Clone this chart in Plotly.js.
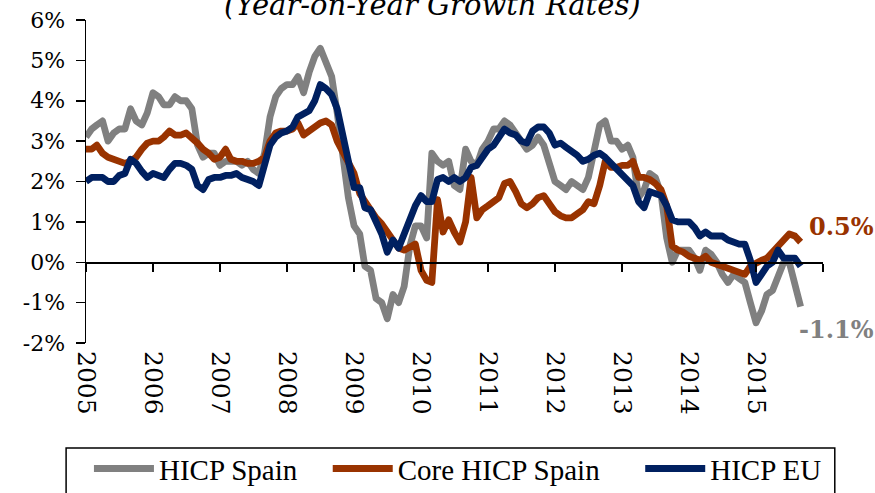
<!DOCTYPE html>
<html><head><meta charset="utf-8">
<script src="https://cdn.plot.ly/plotly-3.0.1.min.js"></script>
<style>
html,body{margin:0;padding:0;background:#fff;}
#chart{width:875px;height:493px;}
.scatterlayer path.js-line{stroke-linejoin:round;}
</style></head><body><div id="chart"></div>
<script>
// Monthly data, Jan 2005 - Sep 2015 (year-on-year %)
const startYear = 2005;
const yearLabels = ['2005','2006','2007','2008','2009','2010','2011','2012','2013','2014','2015'];
const yTickVals = [-2,-1,0,1,2,3,4,5,6];
const yTickLabels = ['-2%','-1%','0%','1%','2%','3%','4%','5%','6%'];
const seriesNames = ['HICP Spain','Core HICP Spain','HICP EU'];

const hicpSpain = [
  3.1,3.3,3.4,3.5,3.0,3.2,3.3,3.3,3.8,3.5,3.4,3.7,
  4.2,4.1,3.9,3.9,4.1,4.0,4.0,3.8,2.9,2.6,2.7,2.7,
  2.4,2.5,2.5,2.5,2.4,2.5,2.3,2.2,2.7,3.6,4.1,4.3,
  4.4,4.4,4.6,4.2,4.7,5.1,5.3,4.9,4.6,3.7,2.5,1.6,
  0.9,0.7,-0.1,-0.2,-0.9,-1.0,-1.4,-0.8,-1.0,-0.6,0.4,0.9,
  0.9,0.6,2.7,2.5,2.4,2.5,1.9,1.8,2.8,2.5,2.4,2.8,
  3.0,3.3,3.3,3.5,3.4,3.2,3.0,2.8,2.9,3.1,2.9,2.4,
  2.0,1.9,1.8,2.0,1.9,1.8,2.1,2.7,3.4,3.5,3.0,3.0,
  2.8,2.9,2.6,1.6,1.8,2.2,2.1,1.7,0.6,0.0,0.3,0.3,
  0.3,0.1,-0.2,0.3,0.2,0.0,-0.3,-0.5,-0.3,-0.4,-0.5,-1.0,
  -1.5,-1.2,-0.8,-0.7,-0.3,0.0,0.0,-0.5,-1.1
];
const coreSpain = [
  2.8,2.8,2.9,2.7,2.6,2.55,2.5,2.45,2.5,2.6,2.8,2.95,
  3.0,3.0,3.1,3.25,3.15,3.15,3.2,3.1,2.95,2.8,2.7,2.55,
  2.6,2.8,2.55,2.5,2.5,2.45,2.45,2.5,2.6,3.0,3.2,3.25,
  3.25,3.3,3.45,3.15,3.25,3.35,3.45,3.5,3.4,3.0,2.75,2.5,
  2.2,1.7,1.5,1.3,1.1,0.95,0.75,0.6,0.35,0.3,0.4,0.45,
  -0.2,-0.45,-0.5,1.55,0.75,1.05,0.75,0.5,1.0,2.1,1.1,1.3,
  1.4,1.5,1.6,1.95,2.0,1.75,1.45,1.35,1.45,1.6,1.65,1.45,
  1.25,1.15,1.1,1.1,1.2,1.3,1.5,1.45,1.9,2.5,2.35,2.35,
  2.4,2.4,2.5,2.1,2.1,2.05,1.95,1.8,1.4,0.4,0.3,0.25,
  0.15,0.1,0.05,0.15,0.0,-0.05,-0.1,-0.15,-0.2,-0.25,-0.3,-0.1,
  0.0,0.05,0.1,0.25,0.4,0.6,0.7,0.65,0.5
];
const hicpEU = [
  2.0,2.1,2.1,2.1,2.0,2.0,2.15,2.2,2.55,2.45,2.25,2.1,
  2.2,2.15,2.1,2.3,2.45,2.45,2.4,2.3,1.9,1.8,2.05,2.1,
  2.1,2.15,2.15,2.2,2.1,2.05,2.0,1.9,2.4,2.9,3.1,3.2,
  3.25,3.35,3.6,3.7,3.75,4.0,4.4,4.3,4.15,3.8,3.2,2.5,
  1.85,1.85,1.35,1.3,1.0,0.7,0.25,0.55,0.35,0.7,1.1,1.4,
  1.65,1.5,1.5,2.05,2.1,2.0,2.1,2.0,2.1,2.35,2.4,2.6,
  2.8,2.9,3.1,3.3,3.2,3.15,3.0,2.95,3.25,3.35,3.35,3.2,
  2.9,2.95,2.85,2.75,2.65,2.5,2.55,2.65,2.7,2.6,2.45,2.35,
  2.2,2.05,1.9,1.5,1.35,1.75,1.7,1.65,1.4,1.05,1.0,1.0,
  1.0,0.85,0.65,0.75,0.65,0.65,0.65,0.55,0.5,0.45,0.45,0.05,
  -0.5,-0.3,-0.1,0.0,0.3,0.1,0.1,0.1,-0.1
];

const colors = ['#808080','#993300','#002060'];

const months = hicpSpain.map((_, i) => {
  const y = startYear + Math.floor(i / 12);
  const m = (i % 12) + 1;
  return y + '-' + String(m).padStart(2, '0') + '-01';
});
const yearTicks = yearLabels.map(y => y + '-01-01');
const allYearTicks = yearTicks.concat([(startYear + yearLabels.length) + '-01-01']);
const xRange = [yearTicks[0], allYearTicks[allYearTicks.length - 1]];

const serif = 'DejaVu Serif, serif';
const values = [hicpSpain, coreSpain, hicpEU];
const legendIds = ['legend', 'legend2', 'legend3'];
const legendX = [0.004, 0.328, 0.752];

const traces = values.map((v, k) => ({
  x: months, y: v, type: 'scatter', mode: 'lines', name: seriesNames[k],
  legend: legendIds[k],
  line: {color: colors[k], width: 6.8}, hoverinfo: 'skip'
}));
// empty helper trace so the zero-crossing tick axis is drawn
traces.push({x: [], y: [], xaxis: 'x2', yaxis: 'y', showlegend: false, hoverinfo: 'skip', type: 'scatter', mode: 'lines'});

const lastIdx = months.length - 1;
const legendStyle = x => ({
  orientation: 'h', x: x, xanchor: 'left', y: -0.31, yanchor: 'top',
  font: {family: 'Liberation Serif, serif', size: 29, color: '#000'},
  bgcolor: 'rgba(0,0,0,0)', borderwidth: 0, itemwidth: 60
});

const layout = {
  width: 875, height: 493,
  margin: {l: 86, r: 52, t: 20, b: 150, autoexpand: false},
  paper_bgcolor: '#fff', plot_bgcolor: '#fff',
  showlegend: true,
  font: {family: serif, color: '#000'},
  xaxis: {
    type: 'date', range: xRange, tickmode: 'array', tickvals: yearTicks, ticktext: yearLabels,
    tickangle: 90, ticks: '', showline: false, showgrid: false, zeroline: false,
    tickfont: {family: serif, size: 25, color: '#000'}, ticklabelstandoff: 7, fixedrange: true
  },
  xaxis2: {
    type: 'date', range: xRange, overlaying: 'x', anchor: 'free', position: 0.25,
    tickmode: 'array', tickvals: allYearTicks, showticklabels: false,
    ticks: 'outside', ticklen: 8, tickwidth: 1.5, tickcolor: '#000',
    showline: true, linecolor: '#000', linewidth: 1.5, showgrid: false, zeroline: false
  },
  yaxis: {
    range: [-2, 6], tickmode: 'array', tickvals: yTickVals, ticktext: yTickLabels,
    ticks: 'outside', ticklen: 9, tickwidth: 1.5, tickcolor: '#000',
    showline: true, linecolor: '#000', linewidth: 1.5, showgrid: false, zeroline: false,
    tickfont: {family: serif, size: 22, color: '#000'}, ticklabelstandoff: 6
  },
  legend: legendStyle(legendX[0]),
  legend2: legendStyle(legendX[1]),
  legend3: legendStyle(legendX[2]),
  shapes: [{
    type: 'rect', xref: 'paper', yref: 'paper', x0: -0.027, x1: 1.016, y0: -0.325, y1: -0.6,
    line: {color: '#000', width: 1.5}, fillcolor: 'rgba(0,0,0,0)', layer: 'below'
  }],
  annotations: [
    {text: '(Year-on-Year Growth Rates)', xref: 'paper', yref: 'paper', x: 0.47, y: 1.045,
     xanchor: 'center', yanchor: 'middle', showarrow: false,
     font: {family: serif, size: 29, style: 'italic', color: '#000'}},
    {text: '<b>' + coreSpain[lastIdx].toFixed(1) + '%</b>', x: months[lastIdx], y: coreSpain[lastIdx],
     xref: 'x', yref: 'y', xanchor: 'left', yanchor: 'middle', xshift: 6, yshift: 16, showarrow: false,
     font: {family: serif, size: 24, color: colors[1]}},
    {text: '<b>' + hicpSpain[lastIdx].toFixed(1) + '%</b>', x: months[lastIdx], y: hicpSpain[lastIdx],
     xref: 'x', yref: 'y', xanchor: 'left', yanchor: 'middle', xshift: -4, yshift: -23, showarrow: false,
     font: {family: serif, size: 24, color: colors[0]}}
  ]
};

Plotly.newPlot('chart', traces, layout, {staticPlot: true, displayModeBar: false});
</script></body></html>
